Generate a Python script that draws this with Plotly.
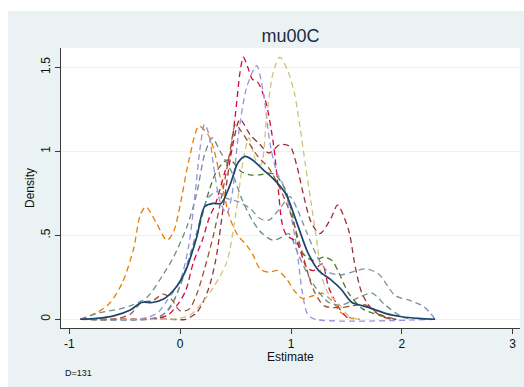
import plotly.graph_objects as go

# Kernel density estimates of the mu00C estimate (one curve per sample)
navy_x = [-0.9, -0.75, -0.6, -0.45, -0.35, -0.25, -0.15, -0.05, 0.05, 0.15, 0.22, 0.3, 0.37, 0.45, 0.52, 0.585, 0.65, 0.75, 0.85, 0.95, 1.05, 1.15, 1.25, 1.35, 1.45, 1.55, 1.65, 1.75, 1.85, 2.0, 2.15, 2.3]
navy_y = [0.0, 0.005, 0.02, 0.055, 0.1, 0.1, 0.12, 0.18, 0.29, 0.49, 0.67, 0.69, 0.69, 0.8, 0.93, 0.97, 0.95, 0.89, 0.83, 0.75, 0.58, 0.4, 0.29, 0.24, 0.18, 0.1, 0.08, 0.06, 0.035, 0.015, 0.005, 0.0]

orange_x = [-0.9, -0.75, -0.63, -0.52, -0.42, -0.36, -0.31, -0.22, -0.12, -0.06, 0.0, 0.08, 0.17, 0.25, 0.3, 0.36, 0.45, 0.52, 0.6, 0.66, 0.72, 0.8, 0.88, 0.96, 1.03, 1.1, 1.2, 1.28, 1.37, 1.45, 1.55, 1.62]
orange_y = [0.0, 0.04, 0.1, 0.22, 0.42, 0.62, 0.67, 0.58, 0.47, 0.52, 0.68, 0.95, 1.15, 1.1, 1.02, 0.85, 0.6, 0.5, 0.44, 0.38, 0.3, 0.28, 0.29, 0.24, 0.17, 0.125, 0.14, 0.155, 0.11, 0.04, 0.005, 0.0]

lavender_x = [-0.9, -0.4, -0.3, -0.2, -0.12, 0.0, 0.08, 0.13, 0.18, 0.22, 0.26, 0.3, 0.36, 0.42, 0.47, 0.52, 0.6, 0.69, 0.75, 0.81, 0.87, 0.93, 0.99, 1.05, 1.1, 1.15, 1.22, 2.3]
lavender_y = [0.0, 0.0, 0.01, 0.04, 0.11, 0.23, 0.45, 0.72, 1.02, 1.16, 1.1, 0.92, 0.7, 0.63, 0.75, 1.07, 1.38, 1.51, 1.35, 1.05, 0.88, 0.8, 0.65, 0.43, 0.17, 0.03, 0.0, 0.0]

teal_x = [-0.9, -0.72, -0.55, -0.45, -0.3, -0.15, -0.06, 0.06, 0.15, 0.22, 0.29, 0.36, 0.47, 0.56, 0.65, 0.74, 0.84, 0.92, 0.98, 1.07, 1.19, 1.34, 1.46, 1.61, 1.73, 1.85, 2.0, 2.1]
teal_y = [0.0, 0.04, 0.06, 0.08, 0.13, 0.27, 0.37, 0.55, 0.75, 0.98, 1.08, 1.0, 0.87, 0.71, 0.59, 0.51, 0.47, 0.49, 0.51, 0.38, 0.22, 0.1, 0.085, 0.13, 0.155, 0.085, 0.015, 0.0]

emidblue_x = [-0.9, -0.3, -0.15, -0.05, 0.05, 0.15, 0.25, 0.33, 0.42, 0.52, 0.63, 0.72, 0.8, 0.9, 0.99, 1.06, 1.14, 1.24, 1.34, 1.46, 1.57, 1.67, 1.79, 1.87, 1.94, 2.06, 2.2, 2.3]
emidblue_y = [0.0, 0.0, 0.03, 0.12, 0.3, 0.52, 0.72, 0.76, 0.72, 0.7, 0.66, 0.6, 0.59, 0.66, 0.73, 0.65, 0.52, 0.37, 0.28, 0.265, 0.285, 0.3, 0.27, 0.2, 0.14, 0.115, 0.075, 0.0]

green_x = [-0.9, -0.3, -0.2, -0.1, 0.0, 0.08, 0.16, 0.24, 0.32, 0.4, 0.45, 0.55, 0.63, 0.72, 0.8, 0.86, 0.95, 1.02, 1.08, 1.14, 1.2, 1.3, 1.37, 1.43, 1.52, 1.64, 1.79, 1.95]
green_y = [0.0, 0.0, 0.01, 0.06, 0.2, 0.36, 0.52, 0.72, 0.87, 0.94, 0.95, 0.88, 0.86, 0.86, 0.87, 0.86, 0.77, 0.6, 0.42, 0.37, 0.35, 0.37, 0.35, 0.28, 0.155, 0.065, 0.025, 0.0]

cranberry_x = [-0.9, -0.3, -0.2, -0.1, -0.02, 0.05, 0.12, 0.2, 0.26, 0.32, 0.4, 0.45, 0.5, 0.54, 0.57, 0.61, 0.65, 0.7, 0.77, 0.84, 0.88, 0.92, 0.96, 1.05, 1.14, 1.2, 1.28, 1.34, 1.43, 1.52]
cranberry_y = [0.0, 0.0, 0.005, 0.03, 0.09, 0.17, 0.34, 0.47, 0.6, 0.69, 0.87, 0.98, 1.23, 1.47, 1.56, 1.5, 1.43, 1.41, 1.3, 1.05, 0.81, 0.57, 0.5, 0.46, 0.31, 0.29, 0.33, 0.19, 0.07, 0.0]

khaki_x = [-0.9, -0.1, 0.0, 0.1, 0.2, 0.3, 0.42, 0.5, 0.57, 0.62, 0.68, 0.73, 0.78, 0.84, 0.9, 0.97, 1.03, 1.08, 1.13, 1.18, 1.23, 1.28, 1.34, 1.42, 1.52, 1.6]
khaki_y = [0.0, 0.0, 0.005, 0.03, 0.1, 0.19, 0.34, 0.62, 0.95, 1.08, 0.95, 0.92, 1.2, 1.47, 1.56, 1.48, 1.35, 1.15, 0.92, 0.7, 0.48, 0.25, 0.15, 0.1, 0.02, 0.0]

maroon_x = [-0.9, -0.1, 0.05, 0.15, 0.25, 0.32, 0.4, 0.47, 0.54, 0.63, 0.72, 0.8, 0.9, 0.99, 1.05, 1.12, 1.18, 1.26, 1.36, 1.42, 1.52, 1.58, 1.64, 1.73, 1.85, 1.95]
maroon_y = [0.0, 0.0, 0.0, 0.04, 0.17, 0.35, 0.72, 1.02, 1.19, 1.1, 1.04, 0.99, 1.04, 1.03, 0.92, 0.72, 0.58, 0.51, 0.6, 0.68, 0.53, 0.31, 0.155, 0.06, 0.01, 0.0]

sienna_x = [-0.9, -0.6, -0.45, -0.35, -0.25, -0.15, -0.08, 0.0, 0.08, 0.15, 0.22, 0.3, 0.38, 0.45, 0.5, 0.55, 0.62, 0.7, 0.8, 0.9, 1.0, 1.1, 1.2, 1.3, 1.45, 1.55, 1.67, 1.8, 1.9]
sienna_y = [0.0, 0.0, 0.03, 0.1, 0.11, 0.15, 0.12, 0.05, 0.06, 0.15, 0.3, 0.5, 0.75, 1.0, 1.16, 1.12, 1.05, 0.97, 0.9, 0.78, 0.62, 0.4, 0.18, 0.08, 0.07, 0.08, 0.085, 0.03, 0.0]

# Axis ticks
x_ticks = [-1, 0, 1, 2, 3]
x_ticklabels = ["-1", "0", "1", "2", "3"]
y_ticks = [0, 0.5, 1, 1.5]
y_ticklabels = ["0", ".5", "1", "1.5"]

dashed = [
    (maroon_x, maroon_y, "#9a3038"),
    (green_x, green_y, "#55752f"),
    (orange_x, orange_y, "#e87f05"),
    (teal_x, teal_y, "#6e8e84"),
    (cranberry_x, cranberry_y, "#d8093c"),
    (lavender_x, lavender_y, "#9892dc"),
    (khaki_x, khaki_y, "#cdc47c"),
    (sienna_x, sienna_y, "#a0522d"),
    (emidblue_x, emidblue_y, "#7b92a8"),
]

fig = go.Figure()
for xs, ys, col in dashed:
    fig.add_trace(go.Scatter(
        x=xs, y=ys, mode="lines",
        line=dict(color=col, width=1.3, dash="6px,4px", shape="spline", smoothing=0.8),
        hoverinfo="skip", showlegend=False,
    ))
fig.add_trace(go.Scatter(
    x=navy_x, y=navy_y, mode="lines",
    line=dict(color="#1a476f", width=1.7, shape="spline", smoothing=0.8),
    hoverinfo="skip", showlegend=False,
))

BG = "#eaf2f3"
FONT = "Liberation Sans, Arial, sans-serif"
AX = "#3c3c3c"

fig.update_layout(
    width=524, height=387,
    margin=dict(l=61, r=4, t=48, b=59),
    paper_bgcolor=BG, plot_bgcolor="white",
    font=dict(family=FONT, size=12, color="#111111"),
    title=dict(text="mu00C", x=0.5, xref="paper", xanchor="center",
               y=1 - 36 / 387, yref="container", yanchor="middle",
               font=dict(size=18, color="#1c2b45", family=FONT)),
    xaxis=dict(range=[-1.075, 3.066], tickvals=x_ticks, ticktext=x_ticklabels,
               showgrid=False, zeroline=False, showline=True, linecolor=AX, linewidth=1,
               ticks="outside", ticklen=5, tickcolor=AX, tickfont=dict(size=12, color="#111111")),
    yaxis=dict(range=[-0.052, 1.615], tickvals=y_ticks, ticktext=y_ticklabels, tickangle=-90,
               showgrid=True, gridcolor=BG, gridwidth=1, zeroline=False,
               showline=True, linecolor=AX, linewidth=1,
               ticks="outside", ticklen=5, tickcolor=AX, tickfont=dict(size=12, color="#111111")),
    shapes=[
        # white margin strips around the graph region
        dict(type="rect", xref="paper", yref="paper", x0=-0.2, x1=-0.1155, y0=-0.3, y1=1.3,
             fillcolor="white", line=dict(width=0), layer="below"),
        dict(type="rect", xref="paper", yref="paper", x0=-0.2, x1=1.1, y0=1.132, y1=1.3,
             fillcolor="white", line=dict(width=0), layer="below"),
    ],
    annotations=[
        dict(text="Density", textangle=-90, xref="paper", yref="paper",
             x=(30 - 61) / 459, y=0.5, xanchor="center", yanchor="middle",
             showarrow=False, font=dict(size=12, color="#111111")),
        dict(text="Estimate", xref="paper", yref="paper",
             x=0.5, y=(328 - 357) / 280, xanchor="center", yanchor="middle",
             showarrow=False, font=dict(size=12, color="#111111")),
        dict(text="D=131", xref="paper", yref="paper",
             x=(63 - 61) / 459, y=(328 - 373) / 280, xanchor="left", yanchor="middle",
             showarrow=False, font=dict(size=9, color="#111111")),
    ],
)

fig.write_html("out.html")
